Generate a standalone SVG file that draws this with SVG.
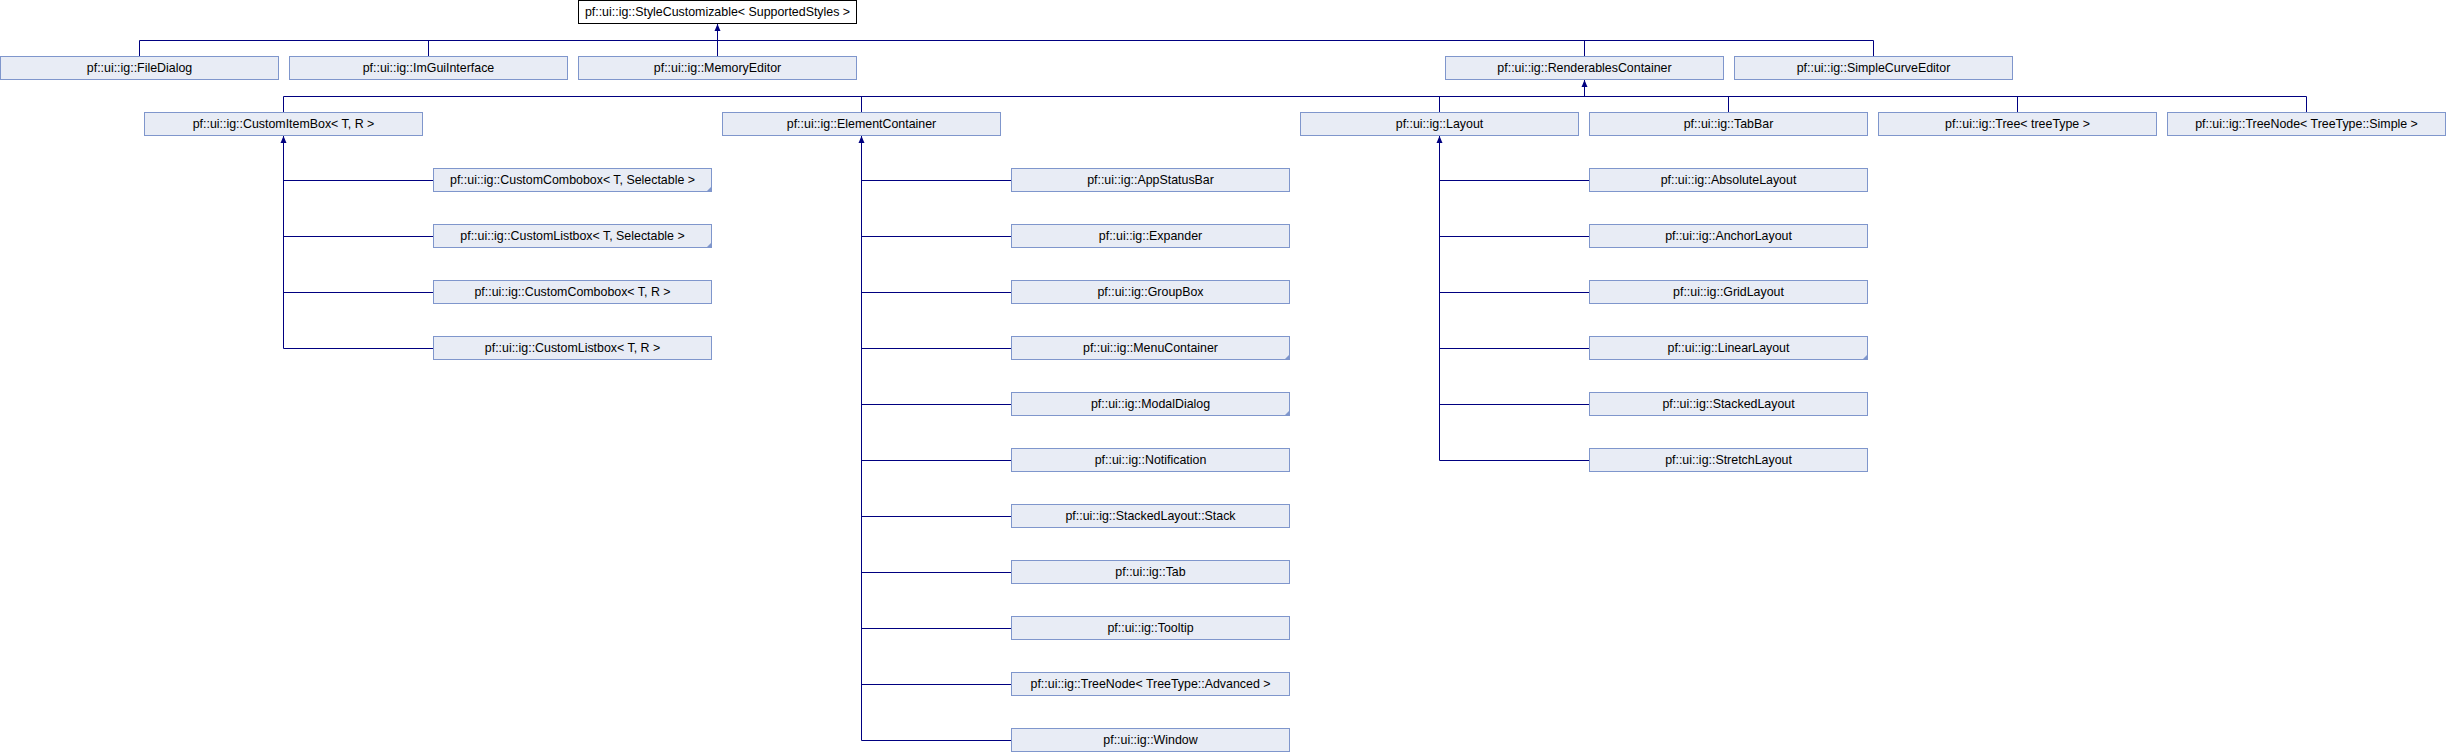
<svg xmlns="http://www.w3.org/2000/svg" width="2446" height="752" viewBox="0 0 2446 752">
<defs>
<style>
.box{fill:#E8ECF5;stroke:#7F96CC;stroke-width:1}
.root{fill:#FFFFFF;stroke:#000000;stroke-width:1}
.t{font-family:"Liberation Sans",Arial,sans-serif;font-size:12.4px;fill:#000000;text-anchor:middle}
.ln{fill:none;stroke:#000080;stroke-width:1}
.ah{fill:#000080;stroke:none}
.cn{fill:#7F96CC;stroke:none}
</style>
</defs>
<rect x="0" y="0" width="2446" height="752" fill="#FFFFFF"/>
<g id="connectors">
<path class="ln" d="M717.5,24 V40.5 M139.5,40.5 H1873.5 M139.5,40.5 V56 M428.5,40.5 V56 M717.5,40.5 V56 M1584.5,40.5 V56 M1873.5,40.5 V56"/>
<path class="ln" d="M1584.5,80 V96.5 M283.5,96.5 H2306.5 M283.5,96.5 V112 M861.5,96.5 V112 M1439.5,96.5 V112 M1728.5,96.5 V112 M2017.5,96.5 V112 M2306.5,96.5 V112"/>
<path class="ln" d="M283.5,136 V348.5 M283.5,180.5 H433.5 M283.5,236.5 H433.5 M283.5,292.5 H433.5 M283.5,348.5 H433.5"/>
<path class="ln" d="M861.5,136 V740.5 M861.5,180.5 H1011.5 M861.5,236.5 H1011.5 M861.5,292.5 H1011.5 M861.5,348.5 H1011.5 M861.5,404.5 H1011.5 M861.5,460.5 H1011.5 M861.5,516.5 H1011.5 M861.5,572.5 H1011.5 M861.5,628.5 H1011.5 M861.5,684.5 H1011.5 M861.5,740.5 H1011.5"/>
<path class="ln" d="M1439.5,136 V460.5 M1439.5,180.5 H1589.5 M1439.5,236.5 H1589.5 M1439.5,292.5 H1589.5 M1439.5,348.5 H1589.5 M1439.5,404.5 H1589.5 M1439.5,460.5 H1589.5"/>
<path class="ah" d="M717.5,24 L714.5,31 L720.5,31 Z"/>
<path class="ah" d="M1584.5,80 L1581.5,87 L1587.5,87 Z"/>
<path class="ah" d="M283.5,136 L280.5,143 L286.5,143 Z"/>
<path class="ah" d="M861.5,136 L858.5,143 L864.5,143 Z"/>
<path class="ah" d="M1439.5,136 L1436.5,143 L1442.5,143 Z"/>
</g>
<g id="n_root"><rect class="root" x="578.5" y="0.5" width="278" height="23"/><text class="t" x="717.5" y="15.5">pf::ui::ig::StyleCustomizable&lt; SupportedStyles &gt;</text></g>
<g id="n_filedialog"><rect class="box" x="0.5" y="56.5" width="278" height="23"/><text class="t" x="139.5" y="71.5">pf::ui::ig::FileDialog</text></g>
<g id="n_imguiinterface"><rect class="box" x="289.5" y="56.5" width="278" height="23"/><text class="t" x="428.5" y="71.5">pf::ui::ig::ImGuiInterface</text></g>
<g id="n_memoryeditor"><rect class="box" x="578.5" y="56.5" width="278" height="23"/><text class="t" x="717.5" y="71.5">pf::ui::ig::MemoryEditor</text></g>
<g id="n_renderablescontainer"><rect class="box" x="1445.5" y="56.5" width="278" height="23"/><text class="t" x="1584.5" y="71.5">pf::ui::ig::RenderablesContainer</text></g>
<g id="n_simplecurveeditor"><rect class="box" x="1734.5" y="56.5" width="278" height="23"/><text class="t" x="1873.5" y="71.5">pf::ui::ig::SimpleCurveEditor</text></g>
<g id="n_customitembox"><rect class="box" x="144.5" y="112.5" width="278" height="23"/><text class="t" x="283.5" y="127.5">pf::ui::ig::CustomItemBox&lt; T, R &gt;</text></g>
<g id="n_elementcontainer"><rect class="box" x="722.5" y="112.5" width="278" height="23"/><text class="t" x="861.5" y="127.5">pf::ui::ig::ElementContainer</text></g>
<g id="n_layout"><rect class="box" x="1300.5" y="112.5" width="278" height="23"/><text class="t" x="1439.5" y="127.5">pf::ui::ig::Layout</text></g>
<g id="n_tabbar"><rect class="box" x="1589.5" y="112.5" width="278" height="23"/><text class="t" x="1728.5" y="127.5">pf::ui::ig::TabBar</text></g>
<g id="n_tree"><rect class="box" x="1878.5" y="112.5" width="278" height="23"/><text class="t" x="2017.5" y="127.5">pf::ui::ig::Tree&lt; treeType &gt;</text></g>
<g id="n_treenode_simple"><rect class="box" x="2167.5" y="112.5" width="278" height="23"/><text class="t" x="2306.5" y="127.5">pf::ui::ig::TreeNode&lt; TreeType::Simple &gt;</text></g>
<g id="n_customcombobox_sel"><rect class="box" x="433.5" y="168.5" width="278" height="23"/><path class="cn" d="M712,186 V192 H706 Z"/><text class="t" x="572.5" y="183.5">pf::ui::ig::CustomCombobox&lt; T, Selectable &gt;</text></g>
<g id="n_customlistbox_sel"><rect class="box" x="433.5" y="224.5" width="278" height="23"/><path class="cn" d="M712,242 V248 H706 Z"/><text class="t" x="572.5" y="239.5">pf::ui::ig::CustomListbox&lt; T, Selectable &gt;</text></g>
<g id="n_customcombobox_r"><rect class="box" x="433.5" y="280.5" width="278" height="23"/><text class="t" x="572.5" y="295.5">pf::ui::ig::CustomCombobox&lt; T, R &gt;</text></g>
<g id="n_customlistbox_r"><rect class="box" x="433.5" y="336.5" width="278" height="23"/><text class="t" x="572.5" y="351.5">pf::ui::ig::CustomListbox&lt; T, R &gt;</text></g>
<g id="n_appstatusbar"><rect class="box" x="1011.5" y="168.5" width="278" height="23"/><text class="t" x="1150.5" y="183.5">pf::ui::ig::AppStatusBar</text></g>
<g id="n_expander"><rect class="box" x="1011.5" y="224.5" width="278" height="23"/><text class="t" x="1150.5" y="239.5">pf::ui::ig::Expander</text></g>
<g id="n_groupbox"><rect class="box" x="1011.5" y="280.5" width="278" height="23"/><text class="t" x="1150.5" y="295.5">pf::ui::ig::GroupBox</text></g>
<g id="n_menucontainer"><rect class="box" x="1011.5" y="336.5" width="278" height="23"/><path class="cn" d="M1290,354 V360 H1284 Z"/><text class="t" x="1150.5" y="351.5">pf::ui::ig::MenuContainer</text></g>
<g id="n_modaldialog"><rect class="box" x="1011.5" y="392.5" width="278" height="23"/><path class="cn" d="M1290,410 V416 H1284 Z"/><text class="t" x="1150.5" y="407.5">pf::ui::ig::ModalDialog</text></g>
<g id="n_notification"><rect class="box" x="1011.5" y="448.5" width="278" height="23"/><text class="t" x="1150.5" y="463.5">pf::ui::ig::Notification</text></g>
<g id="n_stack"><rect class="box" x="1011.5" y="504.5" width="278" height="23"/><text class="t" x="1150.5" y="519.5">pf::ui::ig::StackedLayout::Stack</text></g>
<g id="n_tab"><rect class="box" x="1011.5" y="560.5" width="278" height="23"/><text class="t" x="1150.5" y="575.5">pf::ui::ig::Tab</text></g>
<g id="n_tooltip"><rect class="box" x="1011.5" y="616.5" width="278" height="23"/><text class="t" x="1150.5" y="631.5">pf::ui::ig::Tooltip</text></g>
<g id="n_treenode_adv"><rect class="box" x="1011.5" y="672.5" width="278" height="23"/><text class="t" x="1150.5" y="687.5">pf::ui::ig::TreeNode&lt; TreeType::Advanced &gt;</text></g>
<g id="n_window"><rect class="box" x="1011.5" y="728.5" width="278" height="23"/><text class="t" x="1150.5" y="743.5">pf::ui::ig::Window</text></g>
<g id="n_absolutelayout"><rect class="box" x="1589.5" y="168.5" width="278" height="23"/><text class="t" x="1728.5" y="183.5">pf::ui::ig::AbsoluteLayout</text></g>
<g id="n_anchorlayout"><rect class="box" x="1589.5" y="224.5" width="278" height="23"/><text class="t" x="1728.5" y="239.5">pf::ui::ig::AnchorLayout</text></g>
<g id="n_gridlayout"><rect class="box" x="1589.5" y="280.5" width="278" height="23"/><text class="t" x="1728.5" y="295.5">pf::ui::ig::GridLayout</text></g>
<g id="n_linearlayout"><rect class="box" x="1589.5" y="336.5" width="278" height="23"/><path class="cn" d="M1868,354 V360 H1862 Z"/><text class="t" x="1728.5" y="351.5">pf::ui::ig::LinearLayout</text></g>
<g id="n_stackedlayout"><rect class="box" x="1589.5" y="392.5" width="278" height="23"/><text class="t" x="1728.5" y="407.5">pf::ui::ig::StackedLayout</text></g>
<g id="n_stretchlayout"><rect class="box" x="1589.5" y="448.5" width="278" height="23"/><text class="t" x="1728.5" y="463.5">pf::ui::ig::StretchLayout</text></g>
</svg>
